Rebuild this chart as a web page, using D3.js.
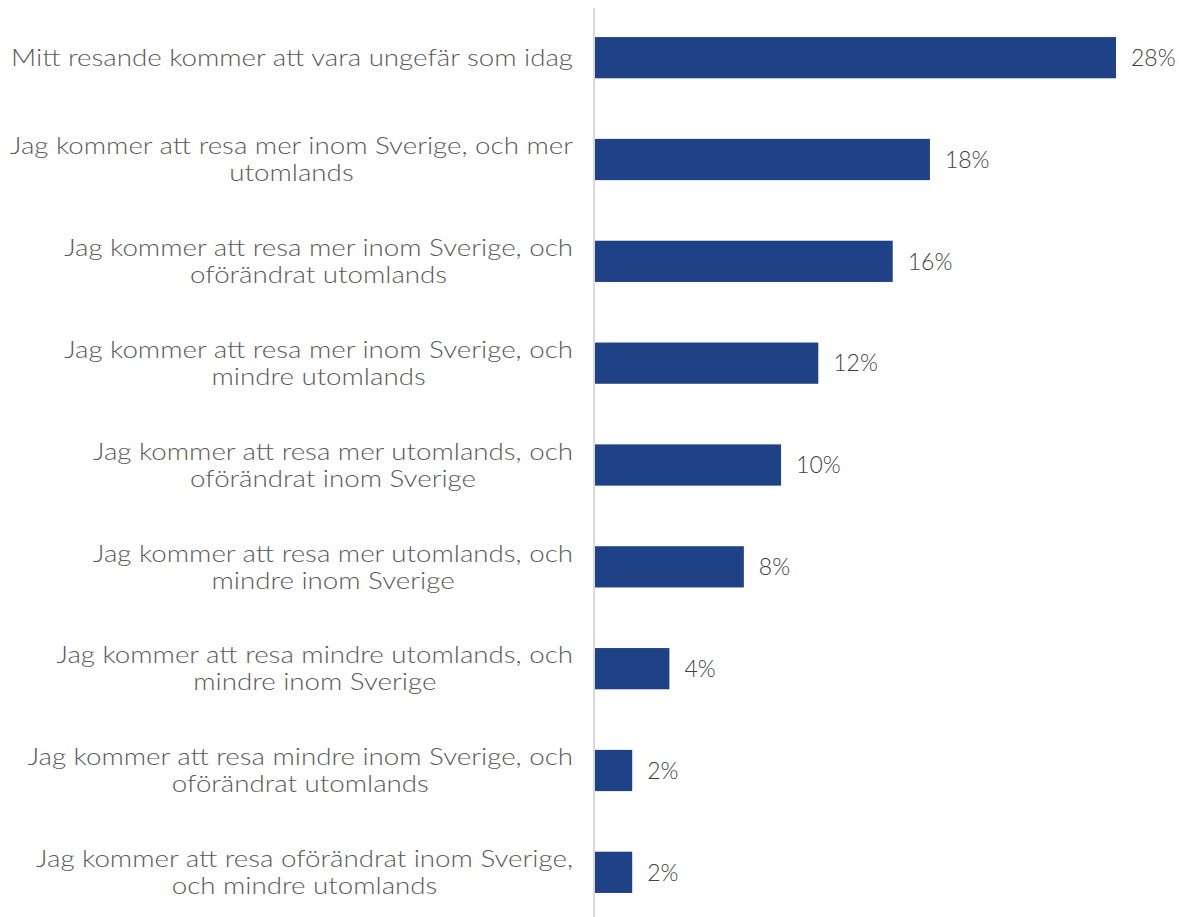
<!DOCTYPE html>
<html><head><meta charset="utf-8">
<script src="https://cdn.jsdelivr.net/npm/d3@7"></script>
<style>body{margin:0;background:#fff}svg{display:block}</style>
</head><body>
<svg id="c" width="1179" height="917"></svg>
<script>
const categories = [
  ["Mitt resande kommer att vara ungefär som idag"],
  ["Jag kommer att resa mer inom Sverige, och mer", "utomlands"],
  ["Jag kommer att resa mer inom Sverige, och", "oförändrat utomlands"],
  ["Jag kommer att resa mer inom Sverige, och", "mindre utomlands"],
  ["Jag kommer att resa mer utomlands, och", "oförändrat inom Sverige"],
  ["Jag kommer att resa mer utomlands, och", "mindre inom Sverige"],
  ["Jag kommer att resa mindre utomlands, och", "mindre inom Sverige"],
  ["Jag kommer att resa mindre inom Sverige, och", "oförändrat utomlands"],
  ["Jag kommer att resa oförändrat inom Sverige,", "och mindre utomlands"]
];
const values = [28, 18, 16, 12, 10, 8, 4, 2, 2];
const valueLabels = ["28%", "18%", "16%", "12%", "10%", "8%", "4%", "2%", "2%"];

const svg = d3.select("#c");
const x0 = 595, labelRight = 573;
const x = d3.scaleLinear().domain([0, 28]).range([x0, 1116]);
const y = d3.scaleBand().domain(d3.range(values.length)).range([6.5, 923.5]).paddingInner(0.595).paddingOuter(0.3);
const font = "Lato, 'Open Sans', sans-serif";
const stretch = 1.205;

svg.append("line").attr("x1", 594).attr("x2", 594).attr("y1", 8).attr("y2", 917)
  .attr("stroke", "#d9d9d9").attr("stroke-width", 2);

svg.selectAll("rect.bar").data(values).join("rect").attr("class", "bar")
  .attr("x", x0).attr("y", (d, i) => y(i)).attr("width", d => x(d) - x0).attr("height", y.bandwidth())
  .attr("fill", "#1f4287");

svg.selectAll("text.val").data(values).join("text").attr("class", "val")
  .attr("x", d => x(d) + 15).attr("y", (d, i) => y(i) + y.bandwidth() / 2).attr("dy", "0.36em")
  .attr("font-family", font).attr("font-size", 23).attr("font-weight", 300).attr("fill", "#404040")
  .text((d, i) => valueLabels[i]);

const lh = 27;
categories.forEach((lines, i) => {
  const cy = y(i) + y.bandwidth() / 2;
  const g = svg.append("g");
  const t = g.selectAll("text").data(lines).join("text")
    .attr("y", (d, j) => cy + (j - (lines.length - 1) / 2) * lh).attr("dy", "0.36em")
    .attr("font-family", font).attr("font-size", 23).attr("font-weight", 300).attr("fill", "#595959")
    .attr("text-anchor", "middle").text(d => d);
  let w = 0;
  t.each(function(){ const l = this.getComputedTextLength() * stretch; this.__w = l; w = Math.max(w, l); });
  t.attr("textLength", function(){ return this.__w; }).attr("lengthAdjust", "spacingAndGlyphs")
   .attr("x", labelRight - w / 2);
});
</script>
</body></html>
